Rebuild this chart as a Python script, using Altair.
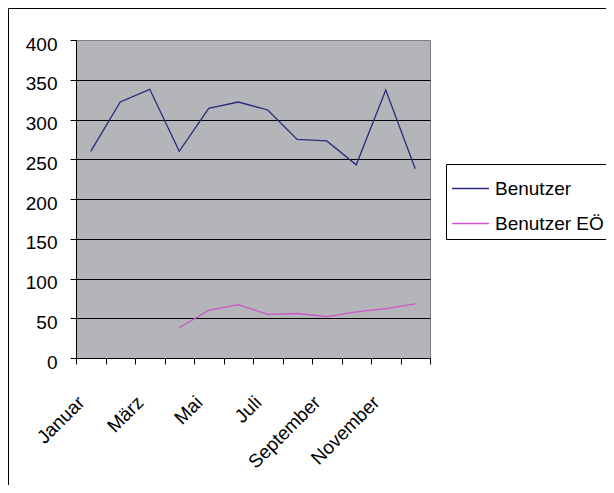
import json
import altair as alt
import pandas as pd

# ---- data ----
months = ["Januar", "Februar", "März", "April", "Mai", "Juni", "Juli",
          "August", "September", "Oktober", "November", "Dezember"]
benutzer = [260, 322, 338, 260, 314, 322, 312, 275, 273, 243, 337, 238]
benutzer_eo = [None, None, None, 38, 60, 67, 55, 56, 52, 58, 62, 68]
series_names = ["Benutzer", "Benutzer EÖ"]
series_colors = ["#2a2a80", "#cc55cc"]
y_ticks = [0, 50, 100, 150, 200, 250, 300, 350, 400]

rows = []
for i, m in enumerate(months):
    rows.append({"idx": i + 1, "Monat": m, "Serie": series_names[0], "Wert": benutzer[i]})
    if benutzer_eo[i] is not None:
        rows.append({"idx": i + 1, "Monat": m, "Serie": series_names[1], "Wert": benutzer_eo[i]})
df = pd.DataFrame(rows)

W, H = 354, 318
FONT = "Liberation Sans"
boundaries = [i + 0.5 for i in range(len(months) + 1)]
label_expr = (
    f"(floor(datum.value) % 2 == 0 && floor(datum.value) < {len(months)}) ? "
    f"{json.dumps(months, ensure_ascii=False)}[floor(datum.value)] : ''"
)

x_axis = alt.Axis(
    values=boundaries, labelExpr=label_expr, title=None, grid=False,
    tickSize=6, tickColor="black", domainColor="black",
    labelAngle=-45, labelAlign="right", labelBaseline="middle",
    labelPadding=35, labelOffset=5, labelOverlap=False, labelFlush=False,
    labelBound=False, labelFontSize=19, labelFont=FONT, labelColor="black",
)
y_axis = alt.Axis(
    values=y_ticks, title=None, grid=True,
    gridColor={"condition": {"test": f"datum.value >= {max(y_ticks)}", "value": "#808080"}, "value": "black"},
    gridWidth=1,
    tickSize=6, tickColor="black", domainColor="black",
    labelPadding=13, labelOffset=4, labelFontSize=19, labelFont=FONT,
    labelColor="black", labelOverlap=False, labelFlush=False,
)

lines = alt.Chart(df).mark_line(strokeWidth=1.3).encode(
    x=alt.X("idx:Q", scale=alt.Scale(domain=[0.5, 12.5], nice=False, zero=False), axis=x_axis),
    y=alt.Y("Wert:Q", scale=alt.Scale(domain=[0, 400], nice=False), axis=y_axis),
    color=alt.Color(
        "Serie:N",
        scale=alt.Scale(domain=series_names, range=series_colors),
        legend=alt.Legend(
            title=None, orient="none", legendX=370, legendY=124,
            strokeColor="black", fillColor="white", padding=5,
            symbolType="stroke", symbolSize=1369, symbolStrokeWidth=1.3,
            labelFontSize=19, labelFont=FONT, labelColor="black",
            labelOffset=5, labelLimit=300, rowPadding=5,
        ),
    ),
)

frame = alt.Chart(pd.DataFrame({"f": [0]})).mark_rect(
    fillOpacity=0, stroke="black", strokeWidth=1
).encode(
    x=alt.value(-67.5), x2=alt.value(700), y=alt.value(-31.5), y2=alt.value(600)
)

chart = alt.layer(frame, lines).properties(
    width=W, height=H,
    autosize=alt.AutoSizeParams(type="none"),
    padding={"left": 68, "top": 32, "right": 176, "bottom": 127},
    background="white",
).configure(
    font=FONT
).configure_view(
    fill="#b4b5b9", stroke="#808080", strokeWidth=1
)

chart.save("out.html", embed_options={"renderer": "svg", "actions": False})
